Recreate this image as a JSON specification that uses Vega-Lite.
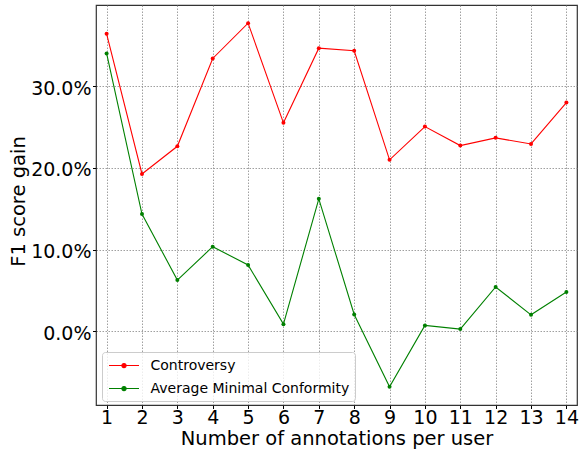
{
  "$schema": "https://vega.github.io/schema/vega-lite/v6.json",
  "autosize": {"type": "none"},
  "width": 481,
  "height": 400,
  "padding": {"left": 96, "top": 5, "right": 2, "bottom": 45},
  "background": "white",
  "config": {
    "font": "DejaVu Sans",
    "view": {"stroke": "#333", "strokeWidth": 1.2}
  },
  "data": {
    "values": [
      {"n": 1, "series": "Controversy", "gain": 0.364},
      {"n": 2, "series": "Controversy", "gain": 0.1927},
      {"n": 3, "series": "Controversy", "gain": 0.2265},
      {"n": 4, "series": "Controversy", "gain": 0.3339},
      {"n": 5, "series": "Controversy", "gain": 0.3771},
      {"n": 6, "series": "Controversy", "gain": 0.2552},
      {"n": 7, "series": "Controversy", "gain": 0.3465},
      {"n": 8, "series": "Controversy", "gain": 0.3433},
      {"n": 9, "series": "Controversy", "gain": 0.2099},
      {"n": 10, "series": "Controversy", "gain": 0.2506},
      {"n": 11, "series": "Controversy", "gain": 0.2274},
      {"n": 12, "series": "Controversy", "gain": 0.2368},
      {"n": 13, "series": "Controversy", "gain": 0.2294},
      {"n": 14, "series": "Controversy", "gain": 0.280},
      {"n": 1, "series": "Average Minimal Conformity", "gain": 0.340},
      {"n": 2, "series": "Average Minimal Conformity", "gain": 0.1437},
      {"n": 3, "series": "Average Minimal Conformity", "gain": 0.0629},
      {"n": 4, "series": "Average Minimal Conformity", "gain": 0.1037},
      {"n": 5, "series": "Average Minimal Conformity", "gain": 0.0813},
      {"n": 6, "series": "Average Minimal Conformity", "gain": 0.009},
      {"n": 7, "series": "Average Minimal Conformity", "gain": 0.1622},
      {"n": 8, "series": "Average Minimal Conformity", "gain": 0.0208},
      {"n": 9, "series": "Average Minimal Conformity", "gain": -0.0677},
      {"n": 10, "series": "Average Minimal Conformity", "gain": 0.0074},
      {"n": 11, "series": "Average Minimal Conformity", "gain": 0.0029},
      {"n": 12, "series": "Average Minimal Conformity", "gain": 0.0544},
      {"n": 13, "series": "Average Minimal Conformity", "gain": 0.0204},
      {"n": 14, "series": "Average Minimal Conformity", "gain": 0.0482}
    ]
  },
  "mark": {"type": "line", "strokeWidth": 1.1, "point": {"filled": true, "size": 16}},
  "encoding": {
    "x": {
      "field": "n",
      "type": "quantitative",
      "scale": {"domain": [0.7, 14.3], "nice": false, "zero": false},
      "axis": {
        "title": "Number of annotations per user",
        "values": [1, 2, 3, 4, 5, 6, 7, 8, 9, 10, 11, 12, 13, 14],
        "format": "d",
        "labelFontSize": 19,
        "labelColor": "#000",
        "labelBaseline": "alphabetic",
        "labelPadding": 14.8,
        "labelFlush": false,
        "labelOverlap": false,
        "titleFontSize": 19.5,
        "titleFontWeight": "normal",
        "titleColor": "#000",
        "titleBaseline": "alphabetic",
        "titleY": 39,
        "titleX": 240.5,
        "domain": false,
        "tickSize": 3.5,
        "tickColor": "#000",
        "gridDash": [1.5, 1.5],
        "gridColor": "#888",
        "gridWidth": 0.8
      }
    },
    "y": {
      "field": "gain",
      "type": "quantitative",
      "scale": {"domain": [-0.0899, 0.3993], "nice": false, "zero": false},
      "axis": {
        "title": "F1 score gain",
        "values": [0, 0.1, 0.2, 0.3],
        "format": ".1%",
        "labelFontSize": 19,
        "labelColor": "#000",
        "labelBaseline": "alphabetic",
        "labelOffset": 8,
        "labelPadding": 1.5,
        "titleFontSize": 19.5,
        "titleFontWeight": "normal",
        "titleColor": "#000",
        "titleBaseline": "alphabetic",
        "titleAlign": "center",
        "titleAngle": -90,
        "titleX": -72,
        "titleY": 196,
        "domain": false,
        "tickSize": 3.5,
        "tickColor": "#000",
        "gridDash": [1.5, 1.5],
        "gridColor": "#888",
        "gridWidth": 0.8
      }
    },
    "color": {
      "field": "series",
      "type": "nominal",
      "scale": {
        "domain": ["Controversy", "Average Minimal Conformity"],
        "range": ["#ff0000", "#008000"]
      },
      "legend": {
        "title": null,
        "orient": "none",
        "legendX": 6,
        "legendY": 347,
        "direction": "vertical",
        "labelFontSize": 14,
        "labelColor": "#000",
        "labelLimit": 400,
        "symbolType": "M-2,0H2M-0.27,0A0.27,0.27,0,1,1,0.27,0A0.27,0.27,0,1,1,-0.27,0Z",
        "symbolSize": 225,
        "symbolStrokeWidth": 1.2,
        "symbolOffset": 8.5,
        "labelOffset": 18,
        "rowPadding": 7,
        "padding": 5,
        "fillColor": "rgba(255,255,255,0.8)",
        "strokeColor": "#cccccc",
        "cornerRadius": 3
      }
    }
  }
}
